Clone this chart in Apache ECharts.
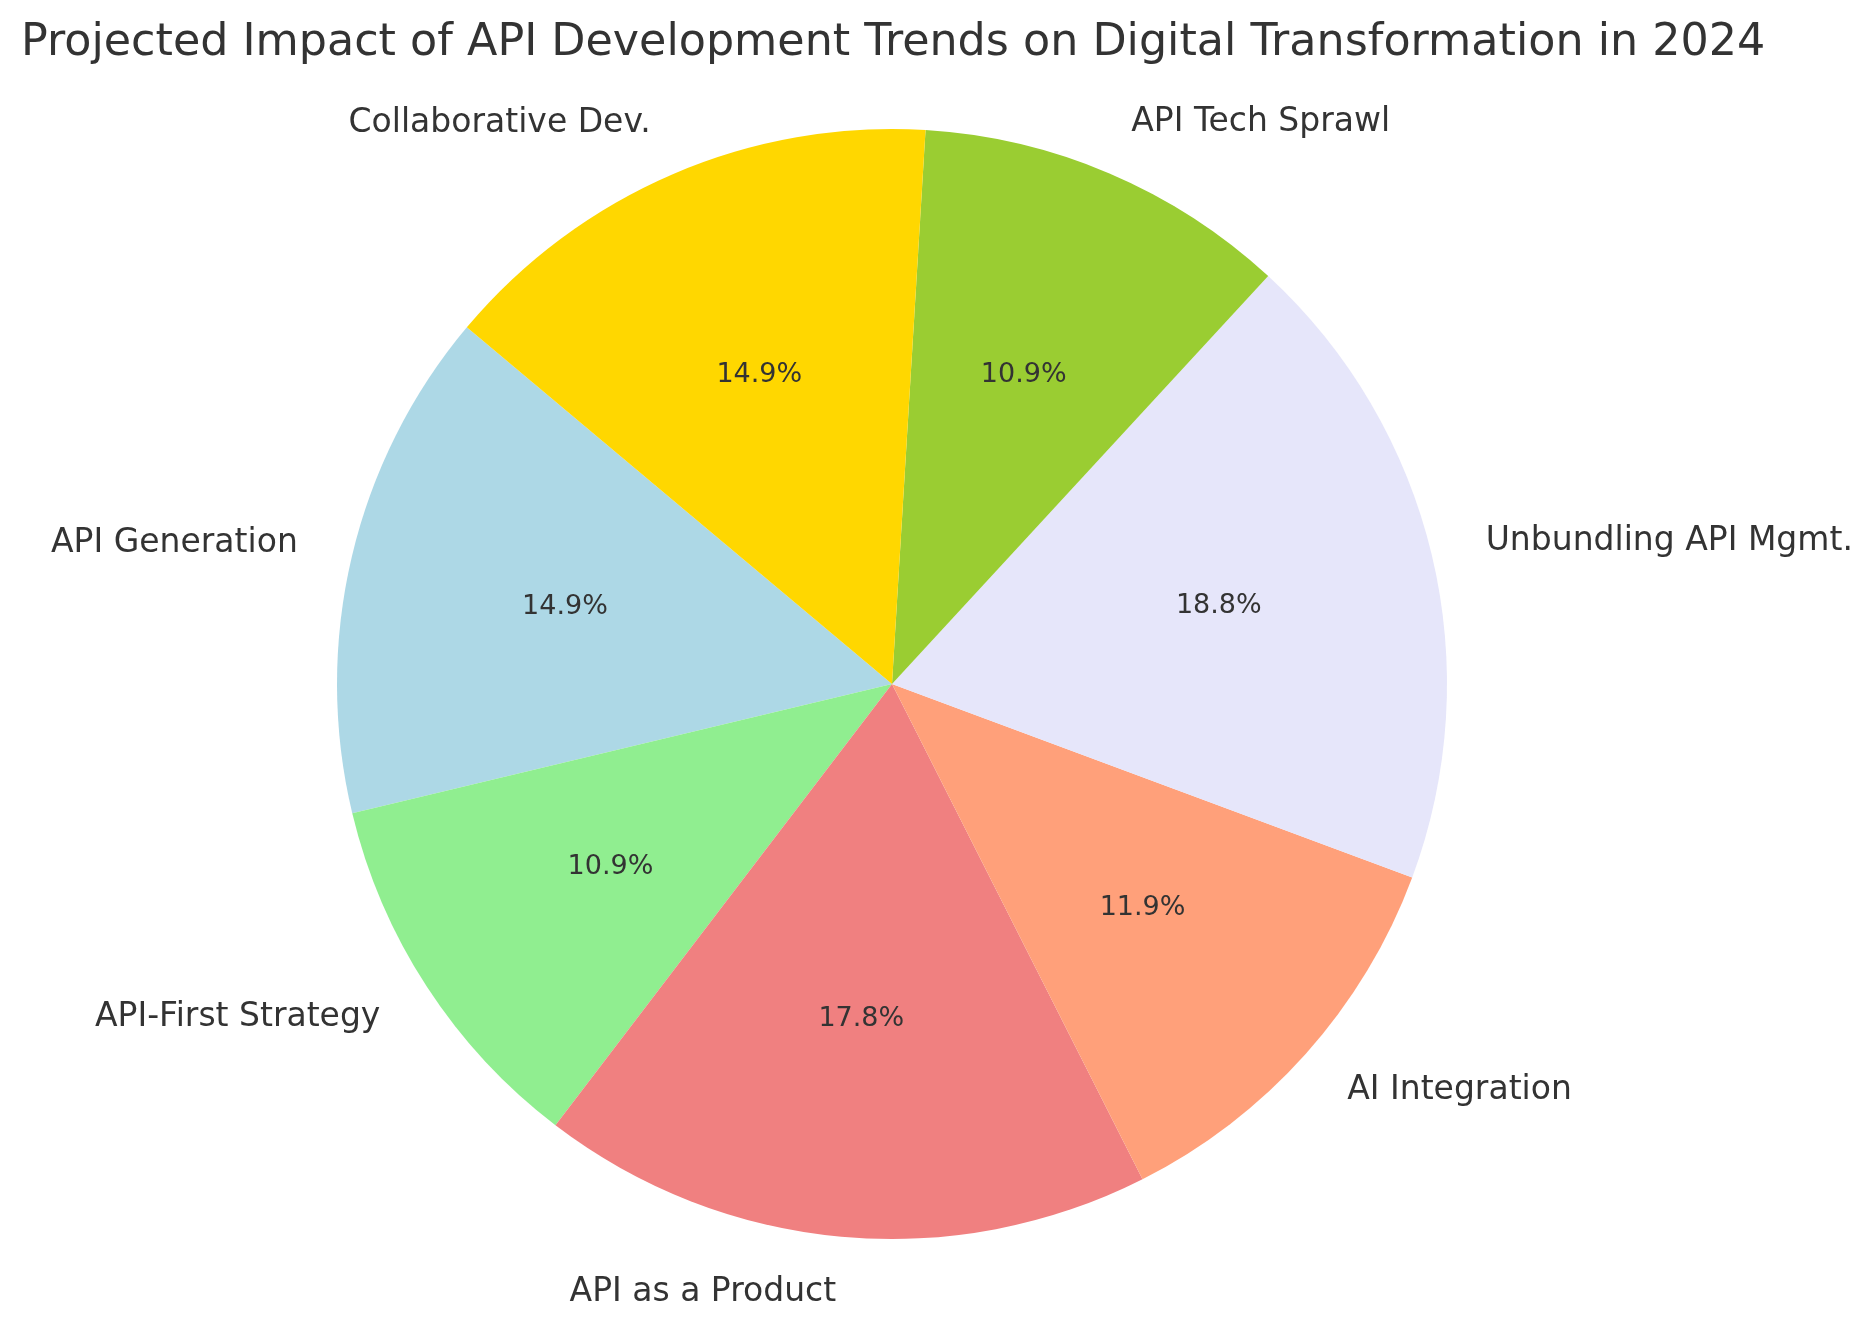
<!DOCTYPE html>
<html>
<head>
<meta charset="utf-8">
<script src="https://cdn.jsdelivr.net/npm/echarts@6/dist/echarts.min.js"></script>
<style>
  html, body { margin: 0; padding: 0; background: #fff; }
  #chart { width: 1876px; height: 1328px; }
</style>
</head>
<body>
<div id="chart"></div>
<script>
const categories = ['API Generation', 'API-First Strategy', 'API as a Product', 'AI Integration',
  'Unbundling API Mgmt.', 'API Tech Sprawl', 'Collaborative Dev.'];
const impact = [15, 11, 18, 12, 19, 11, 15];
const colors = ['#ADD8E6', '#90EE90', '#F08080', '#FFA07A', '#E6E6FA', '#9ACD32', '#FFD700'];

const total = impact.reduce((a, b) => a + b, 0);
const font = 'DejaVu Sans';
const R = 555;
const center = [892, 684];

const pieData = categories.map((name, i) => ({
  name,
  value: impact[i],
  itemStyle: { color: colors[i] }
}));

const myChart = echarts.init(document.getElementById('chart'), null, { renderer: 'canvas' });

const option = {
  animation: false,
  backgroundColor: '#ffffff',
  title: {
    text: 'Projected Impact of API Development Trends on Digital Transformation in 2024',
    left: 16,
    top: 16,
    textStyle: { fontFamily: font, fontSize: 44.4, fontWeight: 'normal', color: '#333333' }
  },
  series: [
    {
      // wedges + category labels at ~1.1r
      type: 'pie',
      center,
      radius: [0, R],
      startAngle: 140,
      clockwise: false,
      avoidLabelOverlap: false,
      silent: true,
      label: {
        show: true,
        position: 'outside',
        formatter: '{b}',
        fontFamily: font,
        fontSize: 33,
        color: '#333333',
        distanceToLabelLine: 0
      },
      labelLine: { show: false, length: 0.1 * R, length2: 0 },
      data: pieData
    },
    {
      // percentage labels at ~0.6r
      type: 'pie',
      center,
      radius: [0.2 * R, R],
      startAngle: 140,
      clockwise: false,
      silent: true,
      itemStyle: { color: 'rgba(0,0,0,0)' },
      label: {
        show: true,
        position: 'inside',
        formatter: (p) => (p.value / total * 100).toFixed(1) + '%',
        fontFamily: font,
        fontSize: 27,
        color: '#333333'
      },
      labelLine: { show: false },
      data: categories.map((name, i) => ({ name, value: impact[i] }))
    }
  ]
};

myChart.setOption(option, true);
</script>
</body>
</html>
